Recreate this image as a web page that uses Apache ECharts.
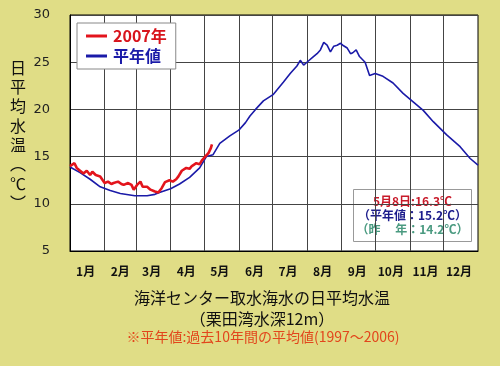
<!DOCTYPE html>
<html>
<head>
<meta charset="utf-8">
<script src="https://cdn.jsdelivr.net/npm/echarts@6/dist/echarts.min.js"></script>
<style>
html,body{margin:0;padding:0;background:#e0dd86;}
#c{width:500px;height:366px;}
</style>
</head>
<body>
<div id="c"></div>
<script>
// Month boundaries (day of year) and labels
const monthStarts = [0,31,59,90,120,151,181,212,243,273,304,334,365];
const monthLabels = ['1月','2月','3月','4月','5月','6月','7月','8月','9月','10月','11月','12月'];

// 2007 daily mean temperature (day of year, ℃)
const days2007 = [0,1,4,6,9,12,15,18,20,23,27,31,34,37,39,43,46,48,52,55,57,60,63,65,69,72,76,79,82,85,89,92,95,97,100,104,107,109,113,116,118,121,124,126,127];
const temp2007 = [14.0,14.2,14.3,13.8,13.5,13.2,13.5,13.05,13.4,13.05,12.9,12.2,12.35,12.1,12.2,12.35,12.1,12.0,12.2,12.0,11.5,12.0,12.35,11.8,11.8,11.5,11.3,11.2,11.65,12.3,12.5,12.35,12.6,12.9,13.5,13.8,13.7,14.0,14.3,14.2,14.6,15.0,15.4,15.9,16.3];

// Normal (1997-2006 average) daily mean temperature
const daysNormal = [0,9,18,27,36,45,58,69,76,80,90,98,107,116,122,128,134,143,151,157,161,166,173,182,191,197,200,203,206,209,213,217,221,224,227,230,233,236,239,242,244,248,251,253,256,259,264,268,273,280,289,298,307,316,325,337,349,358,365];
const tempNormal = [13.9,13.3,12.6,11.8,11.4,11.1,10.85,10.85,11.0,11.2,11.6,12.1,12.8,13.8,15.0,15.2,16.4,17.2,17.8,18.6,19.3,20.0,20.9,21.6,22.9,23.8,24.2,24.6,25.2,24.7,25.1,25.5,25.9,26.3,27.1,26.8,26.1,26.7,26.8,27.0,26.8,26.5,25.9,26.0,26.3,25.6,25.0,23.6,23.8,23.5,22.8,21.7,20.8,19.9,18.7,17.3,16.05,14.8,14.1];

// Annotation values
const latestDate = '5月8日';
const latestValue = 16.3;
const normalValue = 15.2;
const lastYearValue = 14.2;

const yMin = 5, yMax = 30;
const yTitleChars = ['日','平','均','水','温','︵','℃','︶'];

// Day-of-year axis positions 0..365 (axis structure only)
const dayAxis = [];
for (let d = 0; d <= 365; d++) dayAxis.push(d);
const labelDays = monthStarts.slice(0,12).map(d => d + 14);

const chart = echarts.init(document.getElementById('c'));

chart.setOption({
  backgroundColor: '#e0dd86',
  animation: false,
  grid: {left:70, top:15, width:408, height:236, show:true, backgroundColor:'#fff', borderColor:'#000', borderWidth:1},
  legend: {
    left: 77, top: 23, orient: 'vertical',
    backgroundColor:'#fff', borderColor:'#888', borderWidth:1,
    padding:[5,9,5,9], itemGap:4, itemWidth:21, itemHeight:3,
    textStyle:{fontSize:16, fontFamily:'Noto Sans CJK JP', fontWeight:'bold', padding:[0,0,0,1]},
    data:[
      {name:'2007年', icon:'rect', textStyle:{color:'#d8141c'}},
      {name:'平年値', icon:'rect', textStyle:{color:'#1a1aa8'}}
    ]
  },
  xAxis: {
    type:'category', data: dayAxis, boundaryGap:false,
    axisTick:{show:false},
    axisLine:{show:true, lineStyle:{color:'#000'}},
    splitLine:{
      show:true, lineStyle:{color:'#444', width:1},
      interval: function(index){ return monthStarts.indexOf(index) > 0 && index < 365; }
    },
    axisLabel:{
      interval: function(index){ return labelDays.indexOf(index) >= 0; },
      margin: 14, hideOverlap:false,
      fontSize: 12, fontWeight:'bold', color:'#111', fontFamily:'Noto Sans CJK JP',
      formatter: function(value, index){
        const v = Number(value);
        for (let i=0;i<12;i++){ if (v>=monthStarts[i] && v<monthStarts[i+1]) return monthLabels[i]; }
        return '';
      }
    }
  },
  yAxis: {
    type:'value', min:yMin, max:yMax, interval:5,
    axisLine:{show:true, lineStyle:{color:'#000'}}, axisTick:{show:false},
    splitLine:{show:true, lineStyle:{color:'#444', width:1}},
    axisLabel:{margin:20, fontSize:13, color:'#222', fontFamily:'DejaVu Sans'}
  },
  series: [
    {
      name:'平年値', type:'line', symbol:'none', z:3,
      lineStyle:{color:'#1a1aa8', width:1.6}, itemStyle:{color:'#1a1aa8'},
      data: daysNormal.map((d,i)=>[d,tempNormal[i]])
    },
    {
      name:'2007年', type:'line', symbol:'none', z:4,
      lineStyle:{color:'#e3141c', width:2.6}, itemStyle:{color:'#e3141c'},
      data: days2007.map((d,i)=>[d,temp2007[i]])
    }
  ],
  graphic: [
    {type:'text', left:10, top:58, style:{text: yTitleChars.join('\n'), fontSize:16, lineHeight:19.3, fill:'#111', fontFamily:'Noto Sans CJK JP', align:'center'}},
    {type:'group', left:353, top:189, z:10, children:[
      {type:'rect', shape:{x:0,y:0,width:118,height:52}, style:{fill:'#fff', stroke:'#999', lineWidth:1}},
      {type:'text', x:59, y:12, style:{text: latestDate + ':' + latestValue.toFixed(1) + '℃', fill:'#c81a2a', fontSize:12, fontWeight:'bold', fontFamily:'Noto Sans CJK JP', textAlign:'center', textVerticalAlign:'middle'}},
      {type:'text', x:59, y:26, style:{text: '（平年値：' + normalValue.toFixed(1) + '℃）', fill:'#1c1c8c', fontSize:12, fontWeight:'bold', fontFamily:'Noto Sans CJK JP', textAlign:'center', textVerticalAlign:'middle'}},
      {type:'text', x:59, y:40, style:{text: '（昨　 年：' + lastYearValue.toFixed(1) + '℃）', fill:'#4a9a80', fontSize:12, fontWeight:'bold', fontFamily:'Noto Sans CJK JP', textAlign:'center', textVerticalAlign:'middle'}}
    ]},
    {type:'text', x:262, y:298, style:{text:'海洋センター取水海水の日平均水温', fill:'#111', fontSize:16, fontFamily:'Noto Sans CJK JP', textAlign:'center', textVerticalAlign:'middle'}},
    {type:'text', x:262, y:319, style:{text:'（栗田湾水深12m）', fill:'#111', fontSize:16, fontFamily:'Noto Sans CJK JP', textAlign:'center', textVerticalAlign:'middle'}},
    {type:'text', x:263, y:337, style:{text:'※平年値:過去10年間の平均値(1997～2006)', fill:'#e2461c', fontSize:14, fontFamily:'Noto Sans CJK JP', textAlign:'center', textVerticalAlign:'middle'}}
  ]
});
</script>
</body>
</html>
